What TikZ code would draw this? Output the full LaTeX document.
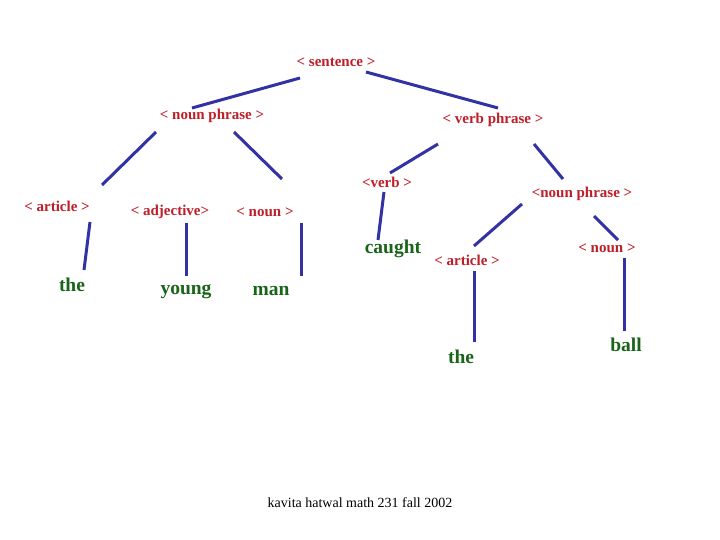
\documentclass[tikz,border=0pt]{standalone}
\usepackage{fontspec}
\setmainfont{Liberation Serif}
\usepackage{xcolor}
\definecolor{catred}{RGB}{190,30,40}
\definecolor{wordgreen}{RGB}{25,100,25}
\definecolor{branchblue}{RGB}{50,50,165}

\begin{document}
\begin{tikzpicture}[
  x=1pt, y=-1pt,
  cat/.style={font=\fontsize{15}{17}\selectfont\bfseries, text=catred, inner sep=0pt},
  word/.style={font=\fontsize{19.5}{22}\selectfont\bfseries, text=wordgreen, inner sep=0pt},
  branch/.style={draw=branchblue, line width=3pt},
  note/.style={font=\fontsize{14}{16}\selectfont, inner sep=0pt}
]
  \useasboundingbox (0,0) rectangle (720,540);

  % categories
  \node[cat] (sent) at (336,62) {< sentence >};
  \node[cat] (np) at (212,116) {< noun phrase >};
  \node[cat] (vp) at (493,120) {< verb phrase >};
  \node[cat] (artl) at (57,206) {< article >};
  \node[cat] (adj) at (170,212) {< adjective>};
  \node[cat] (nounl) at (265,212) {< noun >};
  \node[cat] (verb) at (387,182) {<verb >};
  \node[cat] (npr) at (582,194) {<noun phrase >};
  \node[cat] (artr) at (467,260) {< article >};
  \node[cat] (nounr) at (607,248) {< noun >};

  % words
  \node[word] (the1) at (72,285) {the};
  \node[word] (young) at (186,292) {young};
  \node[word] (man) at (271,291) {man};
  \node[word] (caught) at (393,249) {caught};
  \node[word] (the2) at (461,357) {the};
  \node[word] (ball) at (626,345) {ball};

  \node[note] (credit) at (360,503) {kavita hatwal math 231 fall 2002};

  % branch ends
  \coordinate (sent-l) at (300,78);   \coordinate (np-t) at (192,108);
  \coordinate (sent-r) at (366,72);   \coordinate (vp-t) at (498,108);
  \coordinate (np-l) at (156,132);    \coordinate (artl-t) at (102,185);
  \coordinate (np-r) at (234,132);    \coordinate (nounl-t) at (282,179);
  \coordinate (artl-b) at (90,222);   \coordinate (the1-t) at (84,270);
  \coordinate (adj-b) at (186,223);   \coordinate (young-t) at (186,276);
  \coordinate (nounl-b) at (301,223); \coordinate (man-t) at (301,276);
  \coordinate (vp-l) at (438,144);    \coordinate (verb-t) at (390,173);
  \coordinate (vp-r) at (534,144);    \coordinate (npr-t) at (563,179);
  \coordinate (verb-b) at (384,192);  \coordinate (caught-t) at (378,240);
  \coordinate (npr-l) at (522,204);   \coordinate (artr-t) at (474,246);
  \coordinate (npr-r) at (594,216);   \coordinate (nounr-t) at (618,240);
  \coordinate (artr-b) at (474,271);  \coordinate (the2-t) at (474,342);
  \coordinate (nounr-b) at (624,258); \coordinate (ball-t) at (624,331);

  \draw[branch] (sent-l) -- (np-t);
  \draw[branch] (sent-r) -- (vp-t);
  \draw[branch] (np-l) -- (artl-t);
  \draw[branch] (np-r) -- (nounl-t);
  \draw[branch] (artl-b) -- (the1-t);
  \draw[branch] (adj-b) -- (young-t);
  \draw[branch] (nounl-b) -- (man-t);
  \draw[branch] (vp-l) -- (verb-t);
  \draw[branch] (vp-r) -- (npr-t);
  \draw[branch] (verb-b) -- (caught-t);
  \draw[branch] (npr-l) -- (artr-t);
  \draw[branch] (npr-r) -- (nounr-t);
  \draw[branch] (artr-b) -- (the2-t);
  \draw[branch] (nounr-b) -- (ball-t);
\end{tikzpicture}
\end{document}
